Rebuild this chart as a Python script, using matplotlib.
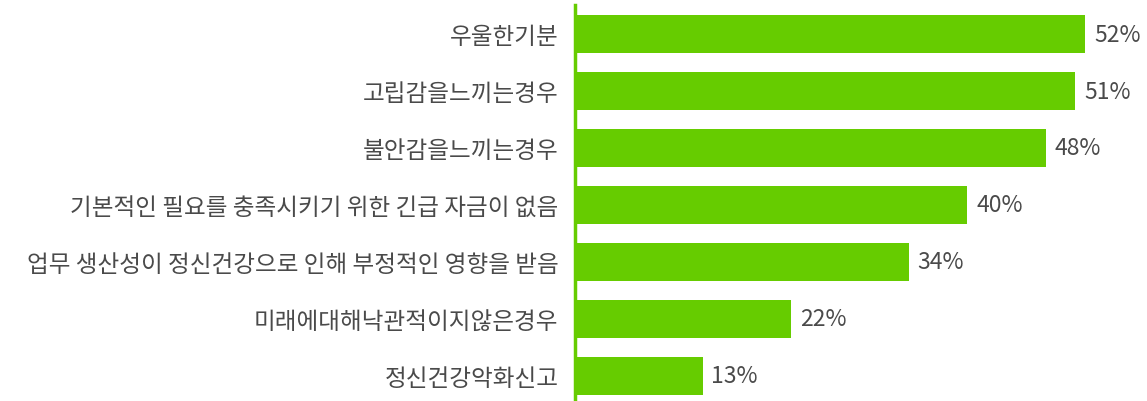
import matplotlib.pyplot as plt

plt.rcParams['font.family'] = ['Noto Sans CJK KR', 'DejaVu Sans']

# 카테고리와 값 (%)
labels = ['우울한기분', '고립감을느끼는경우', '불안감을느끼는경우',
          '기본적인 필요를 충족시키기 위한 긴급 자금이 없음',
          '업무 생산성이 정신건강으로 인해 부정적인 영향을 받음',
          '미래에대해낙관적이지않은경우', '정신건강악화신고']
values = [52, 51, 48, 40, 34, 22, 13]

green = '#66cc00'
text_color = '#4a4a4a'

fig = plt.figure(figsize=(11.47, 4.02), dpi=100)
W, H = 1147, 402
ax = fig.add_axes([575 / W, 0, 1 - 575 / W, (402 - 6) / H])

y = list(range(len(labels)))
ax.barh(y, values, height=0.667, color=green, left=0)
ax.set_xlim(0, 58.3)
ax.set_ylim(6.439, -0.509)

for yi, v in zip(y, values):
    ax.text(v + 0.9, yi, f'{v}%', va='center', ha='left',
            fontsize=16.5, color=text_color, fontweight='light')

ax.set_yticks(y)
ax.set_yticklabels(labels, fontsize=17, color=text_color, fontweight='light')
ax.tick_params(axis='y', length=0, pad=12)
ax.set_xticks([])

for s in ['top', 'right', 'bottom']:
    ax.spines[s].set_visible(False)
ax.spines['left'].set_color(green)
ax.spines['left'].set_linewidth(2.5)

fig.savefig('out.png', dpi=100)
